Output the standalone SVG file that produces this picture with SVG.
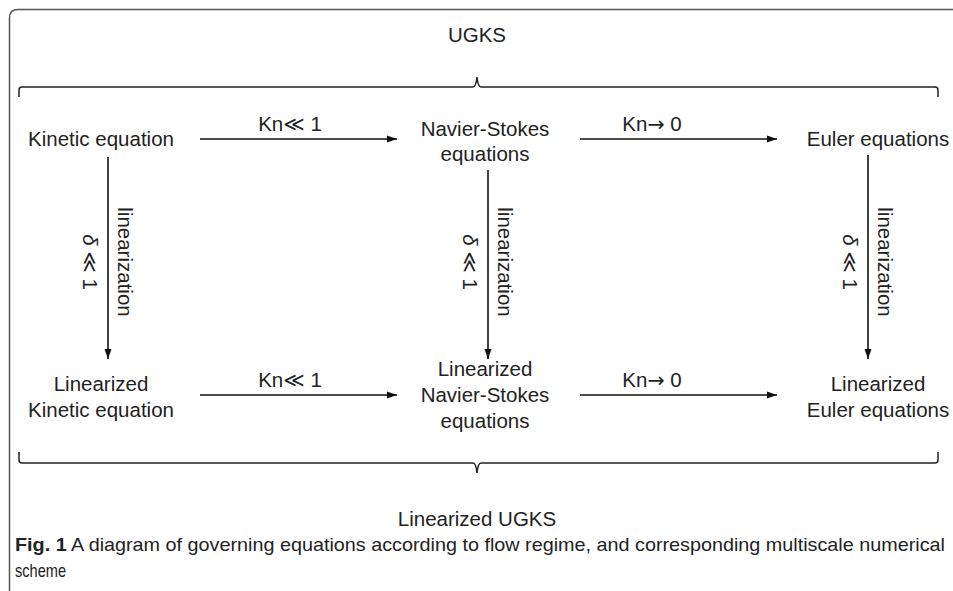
<svg xmlns="http://www.w3.org/2000/svg" width="953" height="591" viewBox="0 0 953 591">
<defs>
<marker id="ah" viewBox="0 0 10 10" refX="10" refY="5" markerWidth="10" markerHeight="10" markerUnits="userSpaceOnUse" orient="auto">
<path d="M0,1.5 L10,5 L0,8.5 Z" fill="#111"/>
</marker>
<style>
.t{font-family:"Liberation Sans","DejaVu Sans",sans-serif;font-size:20.5px;fill:#222;text-anchor:middle}
.s{font-family:"DejaVu Sans",sans-serif}
.c{font-family:"Liberation Sans","DejaVu Sans",sans-serif;font-size:19px;fill:#222}
.ln{stroke:#111;stroke-width:1.6;fill:none}
.br{stroke:#222;stroke-width:1.5;fill:none}
</style>
</defs>
<rect width="953" height="591" fill="#fff"/>
<path d="M9.5,591 L9.5,18 Q9.5,9.5 18,9.5 L953,9.5" fill="none" stroke="#555" stroke-width="1.5"/>
<g id="ugks"><text class="t" x="477" y="42" font-size="19">UGKS</text></g>
<g id="brace-top"><path class="br" d="M19,97 L19,90 Q19,87 22,87 L473,87 Q476,87 477,77 Q478,87 481,87 L935,87 Q938,87 938,90 L938,97"/></g>
<g id="kinetic"><text class="t" x="101" y="146">Kinetic equation</text></g>
<g id="ns"><text class="t" x="485" y="136">Navier-Stokes</text><text class="t" x="485" y="161">equations</text></g>
<g id="euler"><text class="t" x="878" y="146">Euler equations</text></g>
<g id="lkinetic"><text class="t" x="101" y="391">Linearized</text><text class="t" x="101" y="417">Kinetic equation</text></g>
<g id="lns"><text class="t" x="485" y="376">Linearized</text><text class="t" x="485" y="402">Navier-Stokes</text><text class="t" x="485" y="428">equations</text></g>
<g id="leuler"><text class="t" x="878" y="391">Linearized</text><text class="t" x="878" y="417">Euler equations</text></g>
<g id="brace-bottom"><path class="br" d="M19,452 L19,460 Q19,463 22,463 L473,463 Q476,463 477,473 Q478,463 481,463 L935,463 Q938,463 938,460 L938,452"/></g>
<g id="lugks"><text class="t" x="477" y="526" font-size="19">Linearized UGKS</text></g>
<g id="connectors">
<line class="ln" x1="200" y1="139" x2="397" y2="139" marker-end="url(#ah)"/>
<line class="ln" x1="580" y1="139" x2="777" y2="139" marker-end="url(#ah)"/>
<line class="ln" x1="200" y1="395" x2="397" y2="395" marker-end="url(#ah)"/>
<line class="ln" x1="580" y1="395" x2="777" y2="395" marker-end="url(#ah)"/>
<line class="ln" x1="108" y1="157" x2="108" y2="359" marker-end="url(#ah)"/>
<line class="ln" x1="488" y1="170" x2="488" y2="359" marker-end="url(#ah)"/>
<line class="ln" x1="868" y1="155" x2="868" y2="359" marker-end="url(#ah)"/>
<text class="t" x="290" y="131">Kn≪ 1</text>
<text class="t" x="652" y="131">Kn<tspan class="s">→</tspan> 0</text>
<text class="t" x="290" y="387">Kn≪ 1</text>
<text class="t" x="652" y="387">Kn<tspan class="s">→</tspan> 0</text>
<text class="t" transform="translate(118,262) rotate(90)">linearization</text>
<text class="t" transform="translate(83,262) rotate(90)"><tspan font-style="italic">δ</tspan> ≪ 1</text>
<text class="t" transform="translate(498,262) rotate(90)">linearization</text>
<text class="t" transform="translate(463,262) rotate(90)"><tspan font-style="italic">δ</tspan> ≪ 1</text>
<text class="t" transform="translate(878,262) rotate(90)">linearization</text>
<text class="t" transform="translate(843,262) rotate(90)"><tspan font-style="italic">δ</tspan> ≪ 1</text>
</g>
<g id="caption">
<text class="c" x="15" y="551" textLength="930" lengthAdjust="spacingAndGlyphs"><tspan font-weight="bold">Fig. 1</tspan>  A diagram of governing equations according to flow regime, and corresponding multiscale numerical</text>
<text class="c" x="15" y="577" textLength="51" lengthAdjust="spacingAndGlyphs">scheme</text>
</g>
</svg>
